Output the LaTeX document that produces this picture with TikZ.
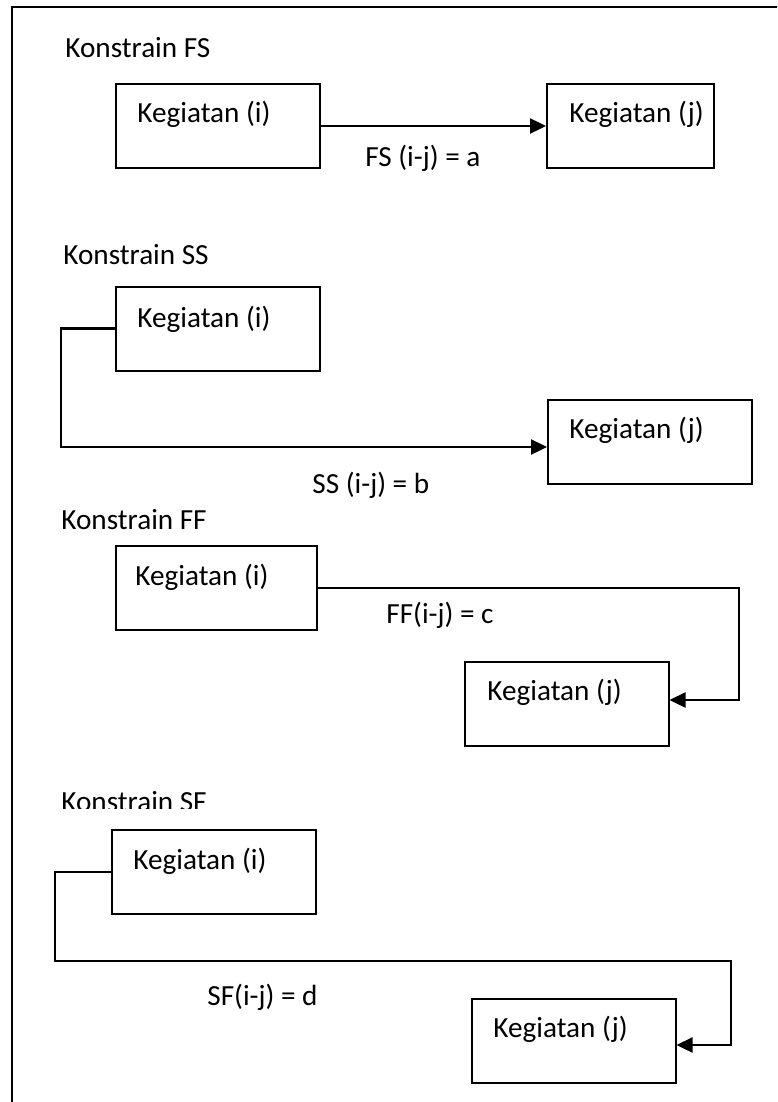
\documentclass[tikz,border=0pt]{standalone}
\usepackage{fontspec}
\setmainfont{Carlito}
\usetikzlibrary{arrows.meta}
\tikzset{
  kotak/.style={draw,line width=1pt,minimum width=102pt,minimum height=42pt,inner sep=0pt},
  teks/.style={anchor=base west,inner sep=0pt,font=\fontsize{14.6}{17}\selectfont},
  panah/.style={line width=1.2pt,-{Triangle[length=8pt,width=7.5pt]}}
}
\begin{document}
\begin{tikzpicture}[x=0.5pt,y=-0.5pt]
\clip (0,0) rectangle (777,1102);
\fill[white] (0,0) rectangle (777,1102);
\draw[line width=1.1pt] (12,7) rectangle (790,1115);

% Konstrain FS
\node[teks] (judulfs) at (65,58) {Konstrain FS};
\node[kotak] (fsi) at (218,126) {};
\node[kotak,minimum width=83.5pt] (fsj) at (630.5,126) {};
\node[teks] (fsit) at (137,122) {Kegiatan (i)};
\node[teks] (fsjt) at (569,122) {Kegiatan (j)};
\draw[panah] (fsi.east) -- (fsj.west);
\node[teks] (fslbl) at (365,166) {FS (i-j) = a};

% Konstrain SS
\node[teks] (judulss) at (63,264) {Konstrain SS};
\node[kotak] (ssi) at (218,328.5) {};
\node[kotak] (ssj) at (650,442) {};
\node[teks] (ssit) at (137,327) {Kegiatan (i)};
\node[teks] (ssjt) at (569,438) {Kegiatan (j)};
\coordinate (ssa) at (61,447);
\draw[panah] (ssi.west) -| (ssa) -- (ssj.west |- ssa);
\node[teks] (sslbl) at (312,493) {SS (i-j) = b};

% Konstrain FF
\node[teks] (judulff) at (61,529) {Konstrain FF};
\node[kotak,minimum width=100.5pt] (ffi) at (216.5,588) {};
\node[kotak] (ffj) at (566.5,704) {};
\node[teks] (ffit) at (135,585) {Kegiatan (i)};
\node[teks] (ffjt) at (487,700) {Kegiatan (j)};
\coordinate (ffa) at (739,700);
\draw[panah] (ffi.east) -| (ffa) -- (ffj.east |- ffa);
\node[teks] (fflbl) at (386,623) {FF(i-j) = c};

% Konstrain SF
\begin{scope}
\clip (0,780) rectangle (400,808);
\node[teks] (judulsf) at (61,811) {Konstrain SF};
\end{scope}
\node[kotak] (sfi) at (214,872) {};
\node[kotak] (sfj) at (573.5,1040.5) {};
\node[teks] (sfit) at (133,869) {Kegiatan (i)};
\node[teks] (sfjt) at (493,1037) {Kegiatan (j)};
\coordinate (sfa) at (55,961);
\coordinate (sfb) at (731,1045);
\draw[panah] (sfi.west) -| (sfa) -| (sfb) -- (sfj.east |- sfb);
\node[teks] (sflbl) at (207,1005) {SF(i-j) = d};
\end{tikzpicture}
\end{document}
